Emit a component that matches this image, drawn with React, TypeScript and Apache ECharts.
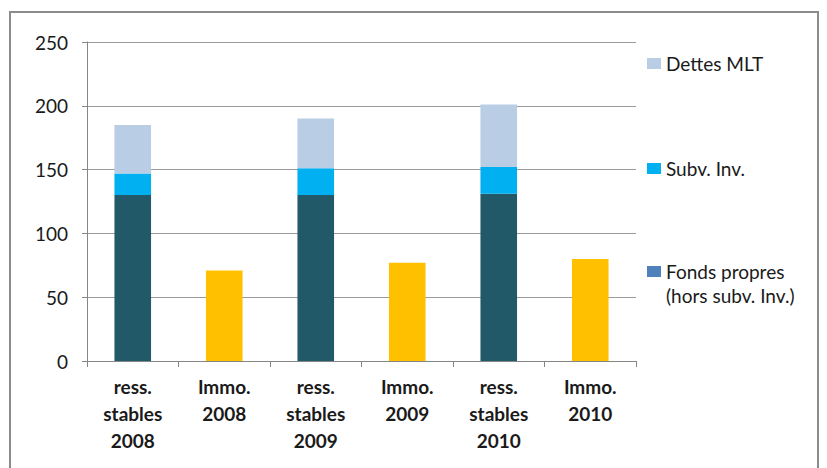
import React, { useEffect, useRef } from "react";
import * as echarts from "echarts";

const categories = [
  "ress.\nstables\n2008",
  "Immo.\n2008",
  "ress.\nstables\n2009",
  "Immo.\n2009",
  "ress.\nstables\n2010",
  "Immo.\n2010",
];

// Stacked components of the stable resources, '-' where the column is an asset column
const fondsPropres = [130, "-", 130, "-", 131, "-"];
const subvInv = [17, "-", 21, "-", 21, "-"];
const dettesMLT = [38, "-", 39, "-", 49, "-"];
// Fixed assets
const immo = ["-", 71, "-", 77, "-", 80];

const yTicks = [0, 50, 100, 150, 200, 250];

const FONT = "Lato, 'Open Sans', sans-serif";

export default function App() {
  const ref = useRef<HTMLDivElement>(null);

  useEffect(() => {
    if (!ref.current) return;
    const chart = echarts.init(ref.current, undefined, { renderer: "svg" });
    const legendText = { fontFamily: FONT, fontSize: 19, color: "#1a1a1a" };
    const legendBase = {
      orient: "vertical" as const,
      left: 647,
      padding: 0,
      itemWidth: 14,
      itemHeight: 11,
      itemGap: 6,
      icon: "rect",
      selectedMode: false,
      textStyle: legendText,
    };
    chart.setOption({
      animation: false,
      backgroundColor: "#ffffff",
      graphic: [
        {
          type: "rect",
          shape: { x: 10, y: 12, width: 808, height: 470 },
          style: { fill: "none", stroke: "#8c8c8c", lineWidth: 2 },
          silent: true,
        },
        {
          type: "text",
          x: 666,
          y: 295,
          style: {
            text: "(hors subv. Inv.)",
            fontFamily: FONT,
            fontSize: 19,
            fill: "#1a1a1a",
            verticalAlign: "middle",
          },
          silent: true,
        },
      ],
      grid: { left: 87, right: 191, top: 42, bottom: 107, containLabel: false },
      legend: [
        { ...legendBase, top: 54, data: ["Dettes MLT"] },
        { ...legendBase, top: 159, data: ["Subv. Inv."] },
        {
          ...legendBase,
          top: 262,
          data: [{ name: "Fonds propres", itemStyle: { color: "#4F81BD" } }],
        },
      ],
      xAxis: {
        type: "category",
        data: categories,
        axisLine: { lineStyle: { color: "#868686", width: 1 } },
        axisTick: { show: true, length: 6, alignWithLabel: false, lineStyle: { color: "#868686" } },
        axisLabel: {
          fontFamily: FONT,
          fontSize: 19,
          fontWeight: "bold",
          color: "#1a1a1a",
          lineHeight: 27,
          margin: 12,
          interval: 0,
        },
      },
      yAxis: {
        type: "value",
        min: yTicks[0],
        max: yTicks[yTicks.length - 1],
        interval: 50,
        axisLine: { show: true, lineStyle: { color: "#868686" } },
        axisTick: { show: true, length: 5, lineStyle: { color: "#868686" } },
        splitLine: { lineStyle: { color: "#9a9a9a", width: 1 } },
        axisLabel: {
          fontFamily: FONT,
          fontSize: 19,
          color: "#1a1a1a",
          margin: 19,
        },
      },
      series: [
        {
          name: "Fonds propres",
          type: "bar",
          stack: "total",
          barWidth: "40%",
          data: fondsPropres,
          itemStyle: { color: "#215968" },
        },
        {
          name: "Subv. Inv.",
          type: "bar",
          stack: "total",
          data: subvInv,
          itemStyle: { color: "#00B0F0" },
        },
        {
          name: "Dettes MLT",
          type: "bar",
          stack: "total",
          data: dettesMLT,
          itemStyle: { color: "#B9CDE5" },
        },
        {
          name: "Immo.",
          type: "bar",
          stack: "total",
          data: immo,
          itemStyle: { color: "#FFC000" },
        },
      ],
    });
    return () => chart.dispose();
  }, []);

  return (
    <div
      ref={ref}
      style={{ position: "absolute", left: 0, top: 0, width: 827, height: 468 }}
    />
  );
}
